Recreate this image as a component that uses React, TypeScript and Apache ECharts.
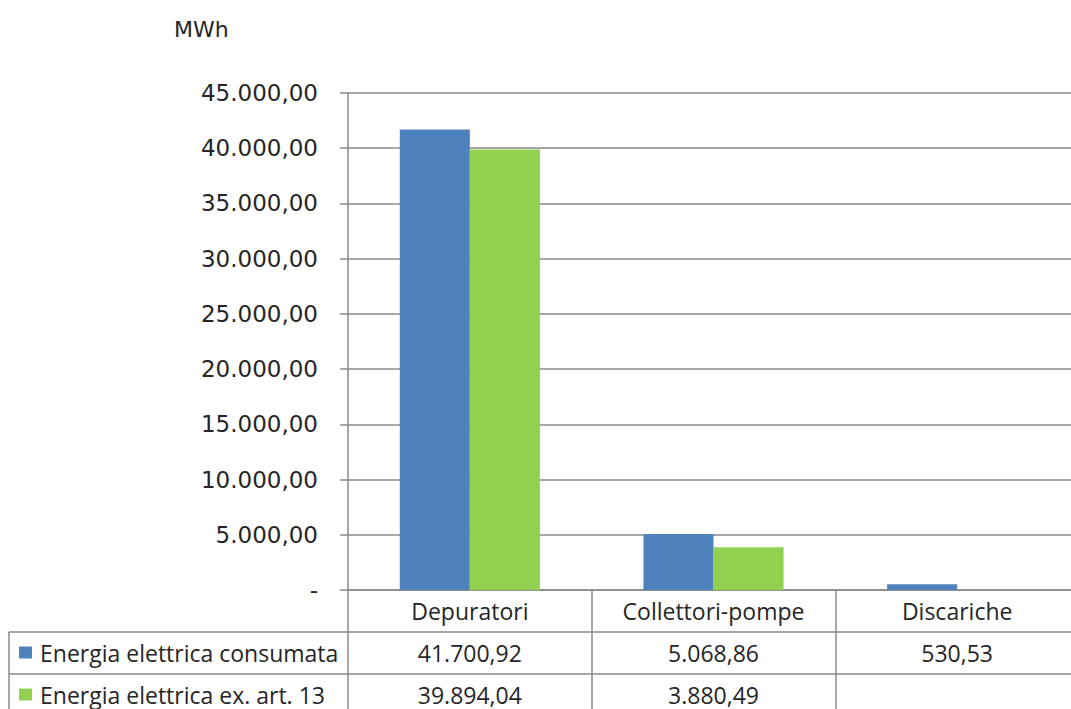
import React, { useEffect, useRef } from "react";
import * as echarts from "echarts";

const categories = ["Depuratori", "Collettori-pompe", "Discariche"];
const seriesNames = ["Energia elettrica consumata", "Energia elettrica ex. art. 13"];
const consumata: (number | null)[] = [41700.92, 5068.86, 530.53];
const exArt13: (number | null)[] = [39894.04, 3880.49, null];
const yMin = 0;
const yMax = 45000;
const yInterval = 5000;
const unitLabel = "MWh";

const colors = ["#4F81BD", "#92D050"];
const lineColor = "#8a8a8a";
const textColor = "#262626";
const tableFont = "'Open Sans', 'Noto Sans', sans-serif";

function fmtIt(v: number): string {
  const [i, d] = Math.abs(v).toFixed(2).split(".");
  const g = i.replace(/\B(?=(\d{3})+(?!\d))/g, ".");
  return (v < 0 ? "-" : "") + g + "," + d;
}

export default function App() {
  const ref = useRef<HTMLDivElement>(null);
  useEffect(() => {
    document.body.style.margin = "0";
    document.body.style.overflow = "hidden";
    if (!ref.current) return;
    const chart = echarts.init(ref.current, null, { renderer: "svg" });
    const tableAxis = (values: (number | null)[], offset: number) => ({
      type: "category" as const,
      data: categories,
      position: "bottom" as const,
      offset,
      gridIndex: 0,
      axisLine: { show: true, lineStyle: { color: lineColor, width: 1.5 } },
      axisTick: { show: true, length: 42, lineStyle: { color: lineColor, width: 1.5 } },
      axisLabel: {
        interval: 0,
        margin: 9,
        fontFamily: tableFont,
        fontSize: 23,
        color: textColor,
        formatter: (_v: string, idx: number) => {
          const x = values[idx];
          return x == null ? "" : fmtIt(x);
        },
      },
      splitLine: { show: false },
    });
    const legendRow = (name: string, top: number) => ({
      orient: "vertical",
      left: 19,
      top,
      padding: 0,
      itemWidth: 13,
      itemHeight: 12,
      icon: "rect",
      selectedMode: false,
      data: [name],
      textStyle: { fontFamily: tableFont, fontSize: 23, lineHeight: 23, color: textColor, padding: [0, 0, 0, 3] },
    });
    chart.setOption({
      animation: false,
      backgroundColor: "#ffffff",
      title: {
        text: unitLabel,
        left: 169,
        top: 13,
        textStyle: { fontFamily: "'DejaVu Sans', sans-serif", fontSize: 22, fontWeight: "normal", color: textColor },
      },
      legend: [legendRow(seriesNames[0], 641), legendRow(seriesNames[1], 683)],
      grid: { left: 348, right: 0, top: 93, bottom: 119, containLabel: false },
      xAxis: [
        {
          type: "category",
          data: categories,
          position: "bottom",
          axisLine: { show: true, lineStyle: { color: lineColor, width: 1.5 } },
          axisTick: { show: true, length: 42, lineStyle: { color: lineColor, width: 1.5 } },
          axisLabel: { interval: 0, margin: 9, fontFamily: tableFont, fontSize: 23, color: textColor },
          splitLine: { show: false },
        },
        tableAxis(consumata, 42),
        tableAxis(exArt13, 84),
      ],
      yAxis: {
        type: "value",
        min: yMin,
        max: yMax,
        interval: yInterval,
        axisLine: { show: true, lineStyle: { color: lineColor, width: 1.5 } },
        axisTick: { show: true, length: 8, lineStyle: { color: lineColor, width: 1.5 } },
        splitLine: { show: true, lineStyle: { color: lineColor, width: 1.5 } },
        axisLabel: {
          margin: 30,
          fontFamily: "'DejaVu Sans', sans-serif",
          fontSize: 23,
          color: textColor,
          formatter: (v: number) => (v === 0 ? "-" : fmtIt(v)),
        },
      },
      graphic: [
        { type: "line", shape: { x1: 9, y1: 632, x2: 348, y2: 632 }, style: { stroke: lineColor, lineWidth: 1.5 } },
        { type: "line", shape: { x1: 9, y1: 674, x2: 348, y2: 674 }, style: { stroke: lineColor, lineWidth: 1.5 } },
        { type: "line", shape: { x1: 9, y1: 632, x2: 9, y2: 716 }, style: { stroke: lineColor, lineWidth: 1.5 } },
      ],
      series: [
        {
          name: seriesNames[0],
          type: "bar",
          data: consumata,
          itemStyle: { color: colors[0] },
          barGap: "0%",
          barCategoryGap: "42.5%",
        },
        {
          name: seriesNames[1],
          type: "bar",
          data: exArt13,
          itemStyle: { color: colors[1] },
          barGap: "0%",
          barCategoryGap: "42.5%",
        },
      ],
    });
    return () => chart.dispose();
  }, []);
  return <div ref={ref} style={{ position: "fixed", left: 0, top: 0, width: 1079, height: 709 }} />;
}
